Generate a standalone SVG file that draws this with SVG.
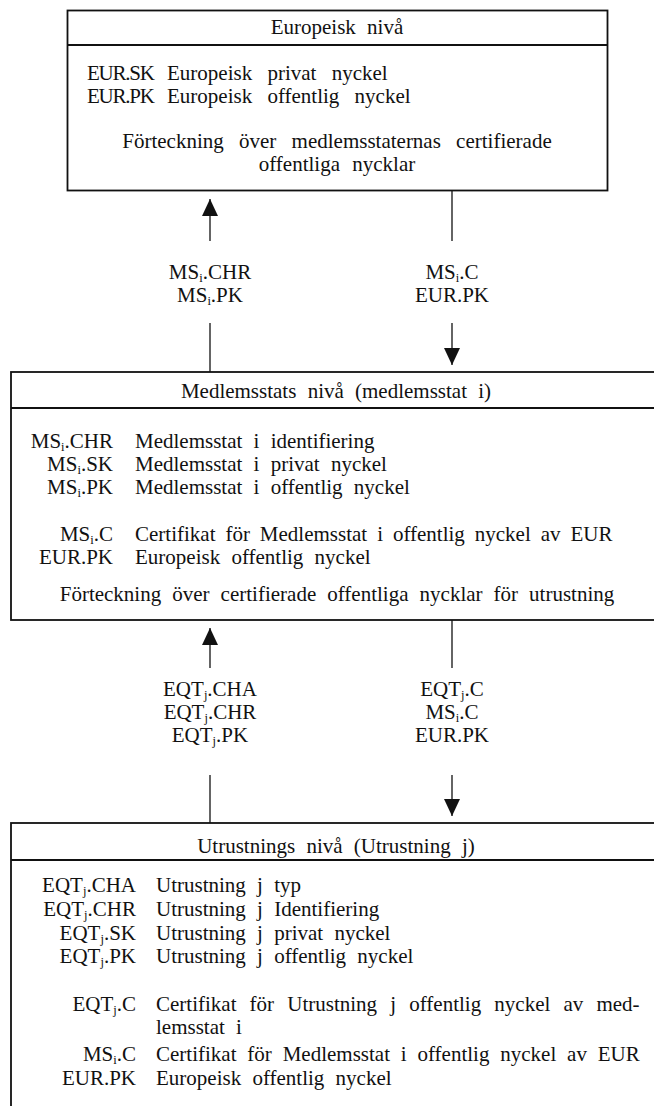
<svg xmlns="http://www.w3.org/2000/svg" width="654" height="1106" viewBox="0 0 654 1106">
  <defs>
    <style>
      .tx { font-family: "Liberation Serif", "Times New Roman", serif; font-size: 21px; fill: #111; word-spacing: 6px; }
      .mid { text-anchor: middle; }
      .end { text-anchor: end; }
      .sb { font-size: 12.5px; }
      .box { fill: #fff; stroke: #111; stroke-width: 1.8; }
      .rule { stroke: #111; stroke-width: 1.8; }
      .conn { stroke: #111; stroke-width: 1.3; fill: none; }
    </style>
    <marker id="arrow" viewBox="0 0 17 16" refX="17" refY="8" markerWidth="17" markerHeight="16" markerUnits="userSpaceOnUse" orient="auto">
      <path d="M0,0 L17,8 L0,16 z" fill="#111"/>
    </marker>
  </defs>
  <rect width="654" height="1106" fill="#fff"/>

  <!-- European level -->
  <g id="european-level">
    <rect class="box" x="67.5" y="10.5" width="540" height="180"/>
    <line class="rule" x1="67.5" y1="45" x2="607.5" y2="45"/>
    <text class="tx mid" x="337" y="34">Europeisk nivå</text>
    <text class="tx" x="87" y="80" textLength="68">EUR.SK</text>
    <text class="tx" x="167" y="80" style="word-spacing:10px">Europeisk privat nyckel</text>
    <text class="tx" x="87" y="103" textLength="68">EUR.PK</text>
    <text class="tx" x="167" y="103" style="word-spacing:10px">Europeisk offentlig nyckel</text>
    <text class="tx mid" x="337" y="148" style="word-spacing:10px">Förteckning över medlemsstaternas certifierade</text>
    <text class="tx mid" x="337" y="171" style="word-spacing:7px">offentliga nycklar</text>
  </g>

  <!-- Member state level -->
  <g id="member-state-level">
    <rect class="box" x="11" y="372" width="660" height="248"/>
    <line class="rule" x1="11" y1="408" x2="654" y2="408"/>
    <text class="tx mid" x="336" y="398">Medlemsstats nivå (medlemsstat i)</text>
    <text class="tx end" x="113" y="448">MS<tspan class="sb" dy="3">i</tspan><tspan dy="-3">.CHR</tspan></text>
    <text class="tx" x="135" y="448">Medlemsstat i identifiering</text>
    <text class="tx end" x="113" y="471">MS<tspan class="sb" dy="3">i</tspan><tspan dy="-3">.SK</tspan></text>
    <text class="tx" x="135" y="471">Medlemsstat i privat nyckel</text>
    <text class="tx end" x="113" y="494">MS<tspan class="sb" dy="3">i</tspan><tspan dy="-3">.PK</tspan></text>
    <text class="tx" x="135" y="494">Medlemsstat i offentlig nyckel</text>
    <text class="tx end" x="113" y="541">MS<tspan class="sb" dy="3">i</tspan><tspan dy="-3">.C</tspan></text>
    <text class="tx" x="135" y="541" style="word-spacing:4.7px">Certifikat för Medlemsstat i offentlig nyckel av EUR</text>
    <text class="tx end" x="113" y="564">EUR.PK</text>
    <text class="tx" x="135" y="564">Europeisk offentlig nyckel</text>
    <text class="tx mid" x="337" y="601" style="word-spacing:5.8px">Förteckning över certifierade offentliga nycklar för utrustning</text>
  </g>

  <!-- Equipment level -->
  <g id="equipment-level">
    <rect class="box" x="11" y="823" width="660" height="300"/>
    <line class="rule" x1="11" y1="860" x2="654" y2="860"/>
    <text class="tx mid" x="336" y="853">Utrustnings nivå (Utrustning j)</text>
    <text class="tx end" x="136" y="892">EQT<tspan class="sb" dy="3">j</tspan><tspan dy="-3">.CHA</tspan></text>
    <text class="tx" x="156" y="892">Utrustning j typ</text>
    <text class="tx end" x="136" y="916">EQT<tspan class="sb" dy="3">j</tspan><tspan dy="-3">.CHR</tspan></text>
    <text class="tx" x="156" y="916">Utrustning j Identifiering</text>
    <text class="tx end" x="136" y="940">EQT<tspan class="sb" dy="3">j</tspan><tspan dy="-3">.SK</tspan></text>
    <text class="tx" x="156" y="940">Utrustning j privat nyckel</text>
    <text class="tx end" x="136" y="963">EQT<tspan class="sb" dy="3">j</tspan><tspan dy="-3">.PK</tspan></text>
    <text class="tx" x="156" y="963">Utrustning j offentlig nyckel</text>
    <text class="tx end" x="136" y="1011">EQT<tspan class="sb" dy="3">j</tspan><tspan dy="-3">.C</tspan></text>
    <text class="tx" x="156" y="1011" style="word-spacing:7.9px">Certifikat för Utrustning j offentlig nyckel av med-</text>
    <text class="tx" x="156" y="1034">lemsstat i</text>
    <text class="tx end" x="136" y="1061">MS<tspan class="sb" dy="3">i</tspan><tspan dy="-3">.C</tspan></text>
    <text class="tx" x="156" y="1061" style="word-spacing:5.6px">Certifikat för Medlemsstat i offentlig nyckel av EUR</text>
    <text class="tx end" x="136" y="1085">EUR.PK</text>
    <text class="tx" x="156" y="1085">Europeisk offentlig nyckel</text>
  </g>

  <!-- Exchanged data labels -->
  <g id="labels-upper">
    <text class="tx mid" x="210" y="279">MS<tspan class="sb" dy="3">i</tspan><tspan dy="-3">.CHR</tspan></text>
    <text class="tx mid" x="210" y="302">MS<tspan class="sb" dy="3">i</tspan><tspan dy="-3">.PK</tspan></text>
    <text class="tx mid" x="452" y="279">MS<tspan class="sb" dy="3">i</tspan><tspan dy="-3">.C</tspan></text>
    <text class="tx mid" x="452" y="302">EUR.PK</text>
  </g>
  <g id="labels-lower">
    <text class="tx mid" x="210" y="696">EQT<tspan class="sb" dy="3">j</tspan><tspan dy="-3">.CHA</tspan></text>
    <text class="tx mid" x="210" y="719">EQT<tspan class="sb" dy="3">j</tspan><tspan dy="-3">.CHR</tspan></text>
    <text class="tx mid" x="210" y="742">EQT<tspan class="sb" dy="3">j</tspan><tspan dy="-3">.PK</tspan></text>
    <text class="tx mid" x="452" y="696">EQT<tspan class="sb" dy="3">j</tspan><tspan dy="-3">.C</tspan></text>
    <text class="tx mid" x="452" y="719">MS<tspan class="sb" dy="3">i</tspan><tspan dy="-3">.C</tspan></text>
    <text class="tx mid" x="452" y="742">EUR.PK</text>
  </g>

  <!-- Connectors -->
  <g id="connectors">
    <line class="conn" x1="210" y1="241" x2="210" y2="199" marker-end="url(#arrow)"/>
    <line class="conn" x1="210" y1="323" x2="210" y2="372"/>
    <line class="conn" x1="452" y1="191" x2="452" y2="241"/>
    <line class="conn" x1="452" y1="323" x2="452" y2="365" marker-end="url(#arrow)"/>
    <line class="conn" x1="210" y1="668" x2="210" y2="628" marker-end="url(#arrow)"/>
    <line class="conn" x1="210" y1="775" x2="210" y2="823"/>
    <line class="conn" x1="452" y1="620" x2="452" y2="668"/>
    <line class="conn" x1="452" y1="775" x2="452" y2="816" marker-end="url(#arrow)"/>
  </g>
</svg>
